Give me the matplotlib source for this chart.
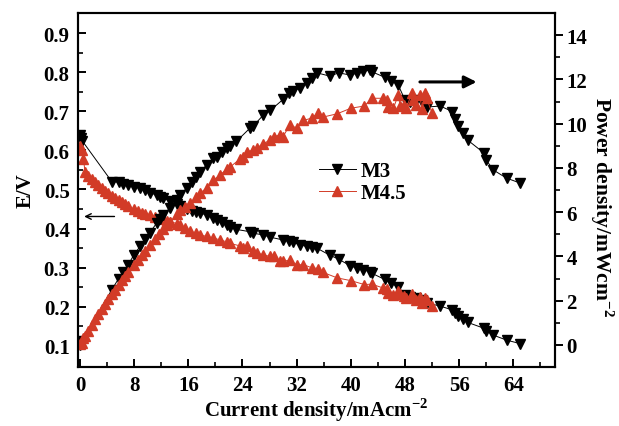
import numpy as np
import matplotlib
matplotlib.use('Agg')
import matplotlib.pyplot as plt

plt.rcParams['font.family'] = ['Liberation Serif', 'DejaVu Serif']
plt.rcParams['font.weight'] = 'bold'
plt.rcParams['mathtext.fontset'] = 'custom'
plt.rcParams['mathtext.rm'] = 'Liberation Serif:bold'
plt.rcParams['mathtext.bf'] = 'Liberation Serif:bold'

# M3 : current density, voltage, power density
m3_i = [0.0, 0.15, 0.3, 4.7, 5.7, 6.4, 7.1, 7.9, 8.9, 9.6, 10.3, 11.3, 11.8, 12.3, 13.3,
        14.3, 14.8, 15.8, 16.5, 17.2, 17.7, 18.7, 19.7, 20.2, 20.9, 21.7, 22.2, 23.1,
        25.1, 25.6, 27.1, 28.1, 30.0, 30.8, 31.5, 32.5, 33.5, 34.2, 35.0, 36.9, 38.2,
        39.9, 40.9, 41.8, 42.8, 43.1, 45.0, 46.0, 47.0, 48.0, 48.7, 49.7, 50.5, 51.2,
        53.2, 55.0, 55.4, 55.9, 56.6, 57.3, 59.7, 60.0, 61.0, 63.0, 65.0]
m3_e = [0.640, 0.632, 0.625, 0.520, 0.519, 0.515, 0.511, 0.507, 0.503, 0.498, 0.492,
        0.486, 0.482, 0.478, 0.470, 0.462, 0.458, 0.450, 0.446, 0.443, 0.440, 0.435,
        0.428, 0.422, 0.416, 0.410, 0.405, 0.398, 0.392, 0.388, 0.384, 0.378, 0.371,
        0.368, 0.365, 0.358, 0.355, 0.352, 0.350, 0.332, 0.322, 0.305, 0.299, 0.295,
        0.290, 0.286, 0.270, 0.260, 0.251, 0.231, 0.226, 0.223, 0.218, 0.210, 0.202,
        0.192, 0.185, 0.177, 0.169, 0.160, 0.145, 0.139, 0.128, 0.115, 0.106]
m3_p = [0.0, 0.1, 0.2, 2.5, 3.0, 3.3, 3.6, 4.05, 4.47, 4.78, 5.07, 5.5, 5.68, 5.88, 6.2,
        6.55, 6.8, 7.1, 7.35, 7.6, 7.8, 8.14, 8.45, 8.5, 8.7, 8.9, 8.97, 9.2, 9.8, 9.9,
        10.4, 10.6, 11.1, 11.4, 11.5, 11.6, 11.85, 12.05, 12.3, 12.15, 12.3, 12.2, 12.28,
        12.36, 12.43, 12.35, 12.1, 11.95, 11.75, 11.08, 11.0, 11.08, 11.0, 10.75, 10.8,
        10.55, 10.2, 9.9, 9.58, 9.25, 8.67, 8.37, 7.92, 7.54, 7.32]

# M4.5 : current density, voltage, power density
m45_i = [0.0, 0.25, 0.5, 0.74, 1.2, 1.7, 2.2, 2.7, 3.2, 3.7, 4.2, 4.7, 5.2, 5.7, 6.2,
         6.6, 7.1, 7.9, 8.6, 9.1, 9.6, 10.3, 11.1, 11.6, 12.3, 12.8, 13.3, 14.3, 14.8,
         15.5, 16.2, 17.2, 17.7, 18.7, 19.7, 20.7, 21.7, 22.2, 23.6, 24.1, 24.6, 25.6,
         26.1, 27.1, 28.0, 28.6, 29.5, 30.0, 31.0, 32.0, 33.0, 34.2, 35.2, 35.9, 38.0,
         40.0, 42.0, 43.1, 44.8, 45.3, 45.5, 46.3, 47.0, 47.3, 47.8, 48.2, 49.0, 49.2,
         49.7, 50.2, 50.5, 51.0, 51.2, 52.0]
m45_e = [0.612, 0.600, 0.579, 0.545, 0.535, 0.528, 0.520, 0.512, 0.505, 0.497, 0.490,
         0.484, 0.478, 0.472, 0.467, 0.462, 0.457, 0.450, 0.445, 0.441, 0.438, 0.434,
         0.430, 0.428, 0.425, 0.420, 0.418, 0.413, 0.410, 0.402, 0.393, 0.388, 0.384,
         0.380, 0.376, 0.371, 0.366, 0.362, 0.356, 0.350, 0.355, 0.342, 0.337, 0.333,
         0.329, 0.330, 0.318, 0.316, 0.320, 0.307, 0.308, 0.300, 0.298, 0.288, 0.274,
         0.267, 0.257, 0.258, 0.248, 0.245, 0.236, 0.231, 0.240, 0.232, 0.227, 0.222,
         0.232, 0.225, 0.218, 0.224, 0.211, 0.223, 0.218, 0.202]
m45_p = [0.05, 0.1, 0.3, 0.4, 0.63, 0.92, 1.18, 1.4, 1.62, 1.85, 2.07, 2.3, 2.5, 2.72,
         2.93, 3.1, 3.28, 3.6, 3.85, 4.05, 4.25, 4.5, 4.8, 5.0, 5.25, 5.4, 5.55, 5.9, 6.1,
         6.25, 6.4, 6.7, 6.85, 7.1, 7.45, 7.69, 7.95, 8.05, 8.4, 8.5, 8.74, 8.8, 8.9, 9.1,
         9.25, 9.4, 9.5, 9.42, 9.95, 9.8, 10.15, 10.25, 10.5, 10.3, 10.45, 10.7, 10.8,
         11.15, 11.15, 11.08, 10.75, 10.7, 11.3, 10.8, 10.85, 10.7, 11.38, 11.08, 10.85,
         11.3, 10.65, 11.38, 11.15, 10.48]

red = '#d23b27'

fig = plt.figure(figsize=(6.19, 4.27), dpi=100)
ax = fig.add_axes([0.126, 0.138, 0.771, 0.829])
ax2 = ax.twinx()

l1, = ax.plot(m3_i, m3_e, color='black', lw=0.7, marker='v', ms=7, mec='black')
l2, = ax.plot(m45_i, m45_e, color=red, lw=0.7, marker='^', ms=7, mec=red)
ax2.plot(m3_i, m3_p, color='black', lw=0.7, marker='v', ms=7, mec='black')
ax2.plot(m45_i, m45_p, color=red, lw=0.7, marker='^', ms=7, mec=red)

ax.set_xlim(-0.3, 70.2)
ax.set_ylim(0.046, 0.951)
ax2.set_ylim(-1.0, 15.0)

ax.set_xticks(np.arange(0, 65, 8))
ax.set_xticks(np.arange(4, 70, 8), minor=True)
ax.set_yticks(np.arange(0.1, 0.95, 0.1))
ax.set_yticks(np.arange(0.15, 0.95, 0.1), minor=True)
ax.set_yticklabels(['%.1f' % v for v in np.arange(0.1, 0.95, 0.1)])
ax2.set_yticks(np.arange(0, 15, 2))
ax2.set_yticks(np.arange(1, 15, 2), minor=True)

ax.tick_params(axis='both', which='major', direction='in', length=6, width=1.4,
               labelsize=15, pad=6)
ax.tick_params(axis='both', which='minor', direction='in', length=3.5, width=1.2)
ax.tick_params(axis='y', right=False)
ax.tick_params(axis='x', top=False, which='both')
ax2.tick_params(axis='y', which='major', direction='out', length=6, width=1.4,
                labelsize=15, pad=2)
ax2.tick_params(axis='y', which='minor', direction='out', length=3.5, width=1.2)

for a in (ax, ax2):
    for s in a.spines.values():
        s.set_linewidth(1.5)

ax.set_xlabel('Current density/mAcm$^{-2}$', fontsize=15, fontweight='bold', labelpad=0)
ax.set_ylabel('E/V', fontsize=15, fontweight='bold', labelpad=6)
ax2.set_ylabel('Power density/mWcm$^{-2}$', fontsize=15.5, fontweight='bold',
               rotation=270, va='center')
ax2.yaxis.set_label_coords(1.098, 0.455)

# arrows showing which axis each curve belongs to
ax.annotate('', xy=(0.2, 0.431), xytext=(5.5, 0.431),
            arrowprops=dict(arrowstyle='->', color='black', lw=1.0))
ax.annotate('', xy=(59.0, 0.775), xytext=(49.8, 0.775),
            arrowprops=dict(arrowstyle='-|>', color='black', lw=2.2, mutation_scale=18))

ax.legend([l1, l2], ['M3', 'M4.5'], loc='upper left', bbox_to_anchor=(0.465, 0.635),
          frameon=False, fontsize=15, handlelength=1.8, handletextpad=0.2,
          labelspacing=0.1)

plt.savefig('out.png', dpi=100)
